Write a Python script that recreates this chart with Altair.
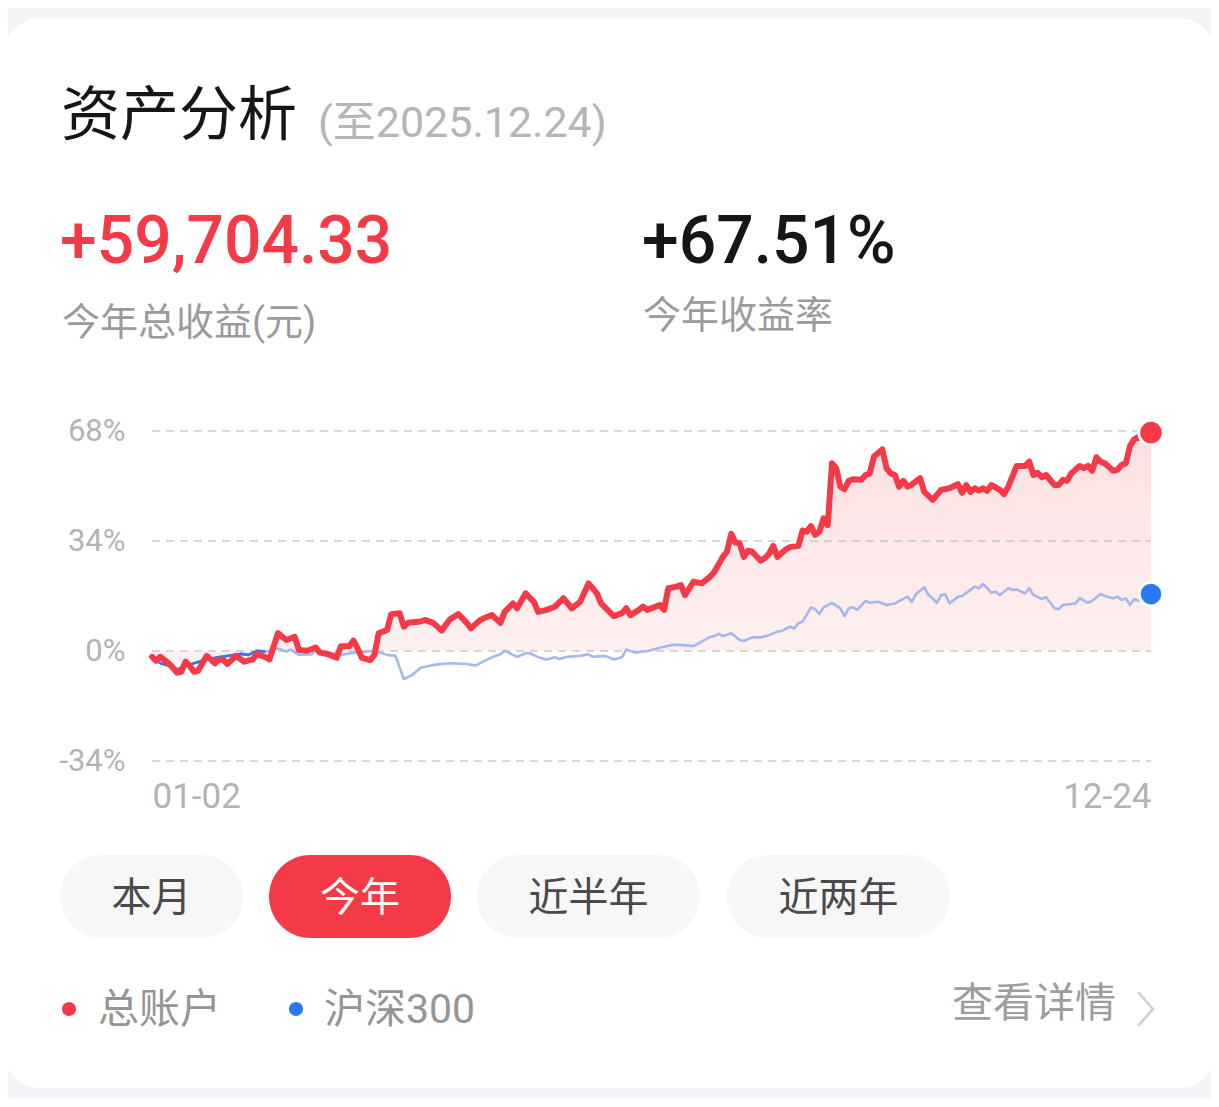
import altair as alt
import pandas as pd

# ---------------- data ----------------
# trading-day index (0 = 01-02, 238 = 12-24) and cumulative return in %
red_day = [0,1,2,4,6,7,8,9,10,11,
           13,15,16,17,18,20,22,24,25,27,
           28,30,32,34,35,37,39,40,42,44,
           45,47,48,49,50,52,53,54,56,57,
           59,60,61,64,65,67,69,71,73,75,
           76,78,79,81,83,84,86,87,89,91,
           92,94,96,98,100,102,104,106,107,110,
           112,113,114,116,117,118,121,122,123,125,
           126,127,129,131,133,134,136,137,138,139,
           140,141,142,143,145,146,147,148,149,151,
           152,154,155,156,157,158,159,160,161,162,
           163,164,165,166,167,169,170,171,172,174,
           175,176,177,178,179,180,181,183,184,186,
           188,190,192,193,194,195,196,197,198,199,
           200,202,203,204,206,208,209,210,211,212,
           213,215,216,217,218,219,221,222,223,224,
           225,226,227,229,230,231,232,233,234,235,
           237,238]
red_pct = [-1.8,-3.0,-1.8,-3.8,-6.7,-6.4,-3.3,-4.6,-6.4,-6.1,
           -1.5,-3.8,-2.6,-2.8,-4.0,-1.5,-3.3,-2.6,-0.9,-1.9,
           -2.6,5.5,3.4,4.4,0.3,0.1,1.1,-0.5,-1.0,-2.1,
           1.5,1.5,3.2,0.8,-2.1,-2.8,-1.2,5.5,6.5,11.4,
           11.7,7.5,8.7,9.1,9.6,8.7,6.3,9.8,11.4,8.7,
           7.0,9.4,10.1,11.1,8.7,12.1,14.7,13.2,17.8,15.2,
           12.1,12.7,13.7,16.3,13.2,15.2,20.9,17.8,14.7,10.8,
           11.7,13.2,11.1,12.7,13.7,12.7,14.2,12.7,19.4,19.9,
           20.4,17.3,21.4,20.9,23.0,24.5,29.1,30.7,36.2,33.5,
           33.3,29.1,31.0,30.7,27.9,28.7,30.0,32.5,29.1,31.4,
           32.1,32.5,37.2,36.9,38.6,35.9,36.9,41.0,38.9,58.0,
           56.5,50.8,50.0,52.6,53.1,52.9,54.4,54.9,60.1,62.3,
           56.5,54.9,54.4,50.8,52.6,50.8,51.4,53.4,49.2,46.7,
           49.8,50.3,51.6,48.9,51.3,49.2,50.3,49.6,50.3,49.5,
           51.3,49.8,48.5,50.8,57.2,57.2,58.5,54.4,55.1,53.7,
           54.4,51.3,51.3,52.9,52.6,54.9,57.2,56.5,57.2,55.7,
           59.9,58.5,58.0,55.7,56.0,57.5,58.0,63.4,65.4,66.2,
           65.2,67.51]

blue_day = [0,2,4,6,8,10,13,16,21,23,
            25,27,30,32,33,35,38,39,42,45,
            48,51,53,56,58,60,62,64,67,71,
            75,77,80,81,83,84,86,87,89,90,
            92,94,96,97,99,102,104,105,108,110,
            112,113,115,118,119,121,122,124,126,129,
            133,134,135,136,138,140,141,143,145,147,
            149,150,152,153,154,155,157,158,159,160,
            162,164,165,166,167,168,170,171,173,175,
            177,180,181,182,184,185,186,187,188,189,
            190,192,193,195,196,197,198,199,200,201,
            202,204,205,206,208,209,210,212,213,215,
            216,217,220,221,223,224,226,227,229,230,
            231,232,233,234,235,236,238]
blue_pct = [-1.8,-3.8,-4.6,-5.7,-4.6,-3.8,-2.6,-1.9,-0.9,-1.2,
            0.1,-0.2,0.8,-0.2,0.5,-1.2,-1.0,0.1,-0.5,-1.2,
            -0.5,-0.2,0.1,-1.2,-1.5,-8.7,-7.4,-5.2,-4.3,-3.8,
            -4.0,-4.5,-2.6,-1.9,-1.0,0.1,-1.2,-1.8,-0.7,-0.7,
            -1.9,-2.6,-1.9,-2.5,-1.8,-1.5,-1.0,-1.8,-1.5,-2.6,
            -1.9,0.5,-0.5,0.0,0.3,1.0,1.3,1.9,1.9,1.5,
            4.4,4.6,5.3,4.6,5.5,3.4,3.1,4.2,4.2,4.9,
            6.0,6.2,7.5,7.0,8.6,9.1,13.5,12.9,11.4,13.5,
            14.9,13.2,10.8,13.2,13.5,12.7,15.5,14.9,15.2,14.2,
            14.7,16.8,15.2,17.6,19.7,17.3,16.3,14.9,17.3,17.5,
            14.7,16.8,17.0,18.9,19.9,19.4,20.7,19.4,18.0,18.3,
            17.3,19.4,18.9,19.0,17.8,19.4,17.3,16.1,16.6,13.2,
            12.9,14.2,14.7,16.3,14.9,15.5,17.6,17.0,16.3,16.8,
            15.8,16.3,14.2,16.0,15.5,16.3,17.6]

y_ticks = [-34, 0, 34, 68]
x_tick_days = [0, 238]
x_tick_labels = ["01-02", "12-24"]

title_text = "资产分析"
date_text = "(至2025.12.24)"
gain_text = "+59,704.33"
gain_label = "今年总收益(元)"
rate_text = "+67.51%"
rate_label = "今年收益率"
buttons = ["本月", "今年", "近半年", "近两年"]
series_names = ["总账户", "沪深300"]
detail_text = "查看详情"

assert len(red_day) == len(red_pct)
assert len(blue_day) == len(blue_pct)

red_df = pd.DataFrame({"day": red_day, "pct": red_pct})
blue_df = pd.DataFrame({"day": blue_day, "pct": blue_pct})
tick_df = pd.DataFrame({"v": y_ticks})
red_end = red_df.tail(1)
blue_end = blue_df.tail(1)
one = pd.DataFrame({"k": [0]})

# ---------------- layout ----------------
W, H = 999, 330          # plot area
OX, OY = 152, 431        # page position of the plot area's top-left corner
FONT = "Roboto, Noto Sans CJK SC"
RED = "#f53a47"
BLUE = "#2a78f5"

def X(v):
    return alt.value(v - OX)

def Y(v):
    return alt.value(v - OY)

def text(t, x, y, size, color, align="left", weight=400):
    return alt.Chart(one).mark_text(
        text=t, fontSize=size, color=color, align=align, baseline="middle",
        fontWeight=weight, font=FONT
    ).encode(x=X(x), y=Y(y))

def box(x1, x2, y1, y2, color, r):
    return alt.Chart(one).mark_rect(color=color, cornerRadius=r).encode(
        x=X(x1), x2=X(x2), y=Y(y1), y2=Y(y2))

def dot(x, y, color, size):
    return alt.Chart(one).mark_circle(color=color, size=size, opacity=1).encode(
        x=X(x), y=Y(y))

def seg(x1, y1, x2, y2, color, w):
    return alt.Chart(one).mark_rule(color=color, strokeWidth=w, strokeCap="round").encode(
        x=X(x1), y=Y(y1), x2=X(x2), y2=Y(y2))

x_scale = alt.Scale(domain=[0, 238], nice=False, zero=False)
y_scale = alt.Scale(domain=[-34, 68], nice=False, zero=False)

label_expr = " : ".join(
    f"datum.value == {d} ? '{l}'" for d, l in zip(x_tick_days[:-1], x_tick_labels[:-1])
) + f" : '{x_tick_labels[-1]}'"

x_axis = alt.Axis(values=x_tick_days, labelExpr=label_expr, labelFlush=True,
                  domain=False, ticks=False, grid=False, title=None, zindex=1,
                  labelFont="Roboto", labelFontSize=35, labelColor="#b3b3b3",
                  labelPadding=18, labelBaseline="top")
y_axis = alt.Axis(values=y_ticks, labelExpr="datum.value + '%'",
                  domain=False, ticks=False, grid=False, title=None, zindex=1,
                  labelFont="Roboto", labelFontSize=31, labelColor="#b3b3b3",
                  labelPadding=27)

XE = alt.X("day:Q", scale=x_scale, axis=x_axis)
YE = alt.Y("pct:Q", scale=y_scale, axis=y_axis)

card = box(4, 1215, 18, 1088, "#ffffff", 36)

area = alt.Chart(red_df).mark_area(
    color=alt.Gradient(gradient="linear",
                       stops=[alt.GradientStop(color="#fde0e1", offset=0),
                              alt.GradientStop(color="#fef2f2", offset=1)],
                       x1=1, x2=1, y1=0, y2=1),
    line=False, interpolate="linear"
).encode(x=XE, y=YE, y2=alt.value(H))

grid = alt.Chart(tick_df).mark_rule(color="#c9c9c9", strokeWidth=1.6, strokeDash=[8, 6]).encode(
    y=alt.Y("v:Q", scale=y_scale, axis=y_axis),
    x=alt.value(0), x2=alt.value(W),
)

blue_line = alt.Chart(blue_df).mark_line(color="#a7b6ee", strokeWidth=2.6, strokeJoin="round").encode(
    x=XE, y=YE)
blue_line_dark = alt.Chart(blue_df).transform_filter(alt.datum.day <= 27).mark_line(
    color="#3c72e6", strokeWidth=2.6, strokeJoin="round").encode(x=XE, y=YE)

red_line = alt.Chart(red_df).mark_line(color=RED, strokeWidth=6, strokeJoin="round", strokeCap="round").encode(
    x=XE, y=YE)

red_dot = alt.Chart(red_end).mark_circle(fill=RED, stroke="white", strokeWidth=3, size=600, opacity=1).encode(
    x=XE, y=YE)
blue_dot = alt.Chart(blue_end).mark_circle(fill=BLUE, stroke="white", strokeWidth=3, size=560, opacity=1).encode(
    x=XE, y=YE)

# header
header = [
    text(title_text, 61, 117, 59, "#161616"),
    text(date_text, 318, 124, 43, "#b5b5b5"),
    text(gain_text, 60, 243, 66, RED, weight=500),
    text(gain_label, 62, 324, 38, "#9b9b9b"),
    text(rate_text, 642, 243, 66, "#161616", weight=500),
    text(rate_label, 643, 317, 38, "#9b9b9b"),
]

# buttons
btn_x = [(60, 243), (269, 451), (477, 700), (727, 950)]
btns = []
for name, (a, b) in zip(buttons, btn_x):
    sel = name == "今年"
    btns.append(box(a, b, 855, 938, RED if sel else "#f7f7f7", 42))
    btns.append(text(name, (a + b) / 2, 899, 40, "#ffffff" if sel else "#4a4a4a", align="center"))

# legend and link
legend = [
    dot(69, 1009, RED, 200),
    text(series_names[0], 98, 1011, 41, "#959595"),
    dot(296, 1009, BLUE, 200),
    text(series_names[1], 324, 1011, 41, "#959595"),
    text(detail_text, 1116, 1005, 41, "#9d9d9d", align="right"),
    seg(1139, 993, 1153, 1009, "#cfcfcf", 2.5),
    seg(1153, 1009, 1139, 1025, "#cfcfcf", 2.5),
]

chart = alt.layer(
    card, area, grid, blue_line, blue_line_dark, red_line, red_dot, blue_dot,
    *header, *btns, *legend
).properties(
    width=W, height=H,
    autosize=alt.AutoSizeParams(type="none"),
    padding={"left": 144, "top": 423, "right": 60, "bottom": 338},
    background="#f2f4f8",
).configure_view(stroke=None)

chart.save("out.html", embed_options={"renderer": "svg", "actions": False})
